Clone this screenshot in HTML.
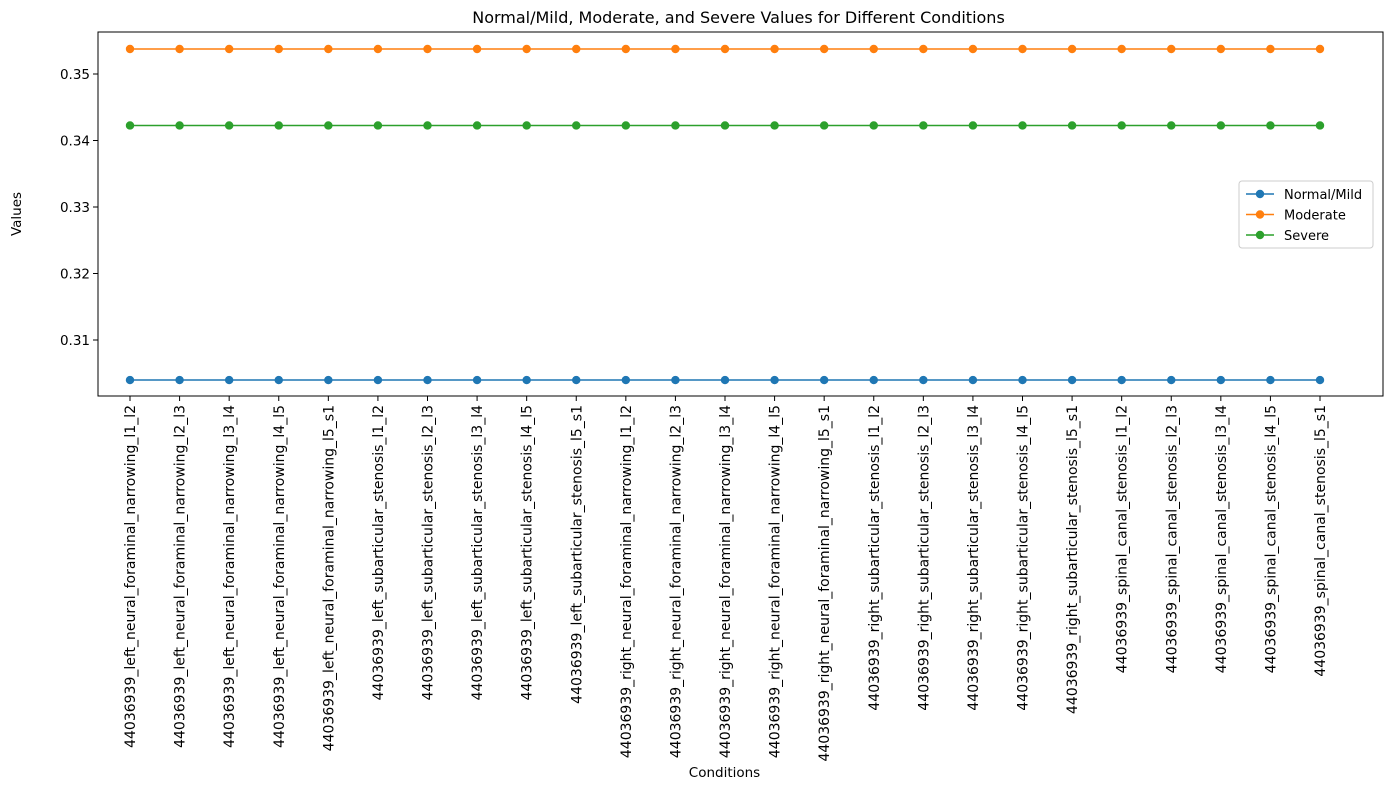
<!DOCTYPE html>
<html><head><meta charset="utf-8"><style>
body{margin:0;background:#fff}
svg{font-family:"DejaVu Sans","Liberation Sans",sans-serif}
</style></head><body>
<svg id="c" width="1389" height="790"></svg>
<script>
const categories=["l1_l2","l2_l3","l3_l4","l4_l5","l5_s1"];
const groups=["left_neural_foraminal_narrowing","left_subarticular_stenosis","right_neural_foraminal_narrowing","right_subarticular_stenosis","spinal_canal_stenosis"];
const labels=[];groups.forEach(g=>categories.forEach(c=>labels.push("44036939_"+g+"_"+c)));
const normalMild=Array(25).fill(0.30398);
const moderate=Array(25).fill(0.35376);
const severe=Array(25).fill(0.34226);
const yTicks=[0.31,0.32,0.33,0.34,0.35];
const L=98,R=1383,T=32,B=396;
const x=i=>130+i*(1320-130)/24;
const y=v=>74-(v-0.35)*6650;
const svg=document.getElementById('c');const NS="http://www.w3.org/2000/svg";
function mk(t,a,p){const e=document.createElementNS(NS,t);for(const k in a)e.setAttribute(k,a[k]);(p||svg).appendChild(e);return e;}
let t=mk('text',{x:(L+R)/2-2,y:23,'text-anchor':'middle','font-size':16});t.textContent="Normal/Mild, Moderate, and Severe Values for Different Conditions";


yTicks.forEach(v=>{
  const l=mk('line',{x1:L-5,x2:L,y1:y(v),y2:y(v),stroke:'#000'});
  
  
  const tx=mk('text',{x:L-8,y:y(v)+5,'text-anchor':'end','font-size':13.5});tx.textContent=v.toFixed(2);
  
  
});
labels.forEach((s,i)=>{
  const l=mk('line',{x1:x(i),x2:x(i),y1:B,y2:B+5,stroke:'#000'});
  
  
  const tx=mk('text',{transform:`translate(${x(i)+5},${B+9}) rotate(-90)`,'text-anchor':'end','font-size':14});tx.textContent=s;
  
  
});
const series=[["Normal/Mild",normalMild,"#1f77b4"],["Moderate",moderate,"#ff7f0e"],["Severe",severe,"#2ca02c"]];
series.forEach(([n,d,c])=>{
  const p=mk('polyline',{points:d.map((v,i)=>x(i)+','+y(v)).join(' '),fill:'none',stroke:c,'stroke-width':1.5});
  
  
  d.forEach((v,i)=>{const m=mk('circle',{cx:x(i),cy:y(v),r:4.2,fill:c});
    
    });
});
const f=mk('rect',{x:L,y:T,width:R-L,height:B-T,fill:'none',stroke:'#000','stroke-width':1});


let ty=mk('text',{transform:`translate(21,${(T+B)/2}) rotate(-90)`,'text-anchor':'middle','font-size':13.5});ty.textContent="Values";


let tx=mk('text',{x:(L+R)/2-16,y:777,'text-anchor':'middle','font-size':13.5});tx.textContent="Conditions";


const g=mk('g',{});


mk('rect',{x:1239,y:181,width:134,height:67,rx:3,fill:'#fff',stroke:'#ccc'},g);
series.forEach(([n,d,c],k)=>{
  const yy=194+k*20.5;
  mk('line',{x1:1246,x2:1274,y1:yy,y2:yy,stroke:c,'stroke-width':1.5},g);
  mk('circle',{cx:1260,cy:yy,r:4.2,fill:c},g);
  const e=mk('text',{x:1284,y:yy+5,'font-size':13},g);e.textContent=n;
  
  
});
</script>
</body></html>
